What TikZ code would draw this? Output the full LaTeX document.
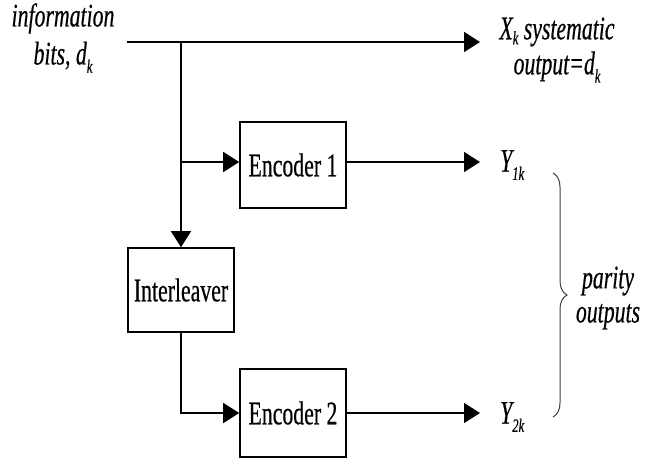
\documentclass[tikz,border=0pt]{standalone}
\usepackage{fontspec}
\setmainfont{Liberation Serif}[FakeStretch=0.66,FakeBold=0.4]
\usetikzlibrary{arrows.meta,decorations.pathreplacing}
\newcommand\lsub[1]{\raisebox{-0.25em}{\fontsize{19}{19}\selectfont\itshape #1}}
\newcommand\xsub[1]{\raisebox{-0.15em}{\fontsize{19}{19}\selectfont\itshape #1}}
\begin{document}
\begin{tikzpicture}[x=1pt,y=-1pt,
  box/.style={draw, line width=1.6pt, inner sep=0pt, font=\fontsize{33}{38}\selectfont},
  conn/.style={line width=1.6pt},
  arr/.style={conn, -{Triangle[length=16pt,width=20pt]}},
  lbl/.style={font=\fontsize{33}{38}\selectfont\itshape, align=center, inner sep=0pt}]
\useasboundingbox (0,0) rectangle (652,459);
% boxes
\node[box, minimum width=106pt, minimum height=86pt] (enc1) at (293,165) {Encoder 1};
\node[box, minimum width=106pt, minimum height=84pt] (intl) at (181,290) {Interleaver};
\node[box, minimum width=106pt, minimum height=88pt] (enc2) at (293,413) {Encoder 2};
% labels
\node[lbl] (info) at (63,38) {information\\bits, d\lsub{k}};
\node[lbl, font=\fontsize{33}{35}\selectfont\itshape] (xk) at (557,50) {X\xsub{k} systematic\\output=d\lsub{k}};
\node[lbl, anchor=west] (y1) at (500,165) {Y\lsub{1k}};
\node[lbl, anchor=west] (y2) at (500,417) {Y\lsub{2k}};
\node[lbl, font=\fontsize{33}{34}\selectfont\itshape] (par) at (608,298) {parity\\outputs};
% coordinates
\coordinate (in) at (127,42);
\coordinate (split) at (181,42);
\coordinate (xend) at (480,42);
\coordinate (tap) at (181,162);
\coordinate (y1end) at (480,162);
\coordinate (y2end) at (480,413);
\coordinate (btop) at (553,173);
\coordinate (bbot) at (553,417);
% connectors
\draw[arr] (in) -- (xend);
\draw[arr] (split) -- (split |- intl.north);
\draw[arr] (tap) -- (enc1.west |- tap);
\draw[arr] (enc1.east |- y1end) -- (y1end);
\draw[arr] (intl.south) -- (intl.south |- enc2.west) -- (enc2.west);
\draw[arr] (enc2.east |- y2end) -- (y2end);
% brace
\draw[decorate, decoration={brace, amplitude=14pt}, line width=1pt, black!75] (btop) -- (bbot);
\end{tikzpicture}
\end{document}
